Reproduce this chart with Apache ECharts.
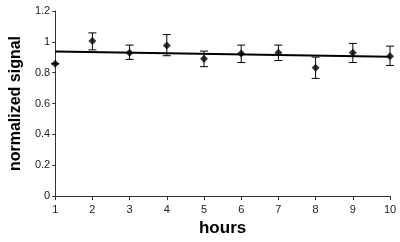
<!DOCTYPE html>
<html>
<head>
<meta charset="utf-8">
<script src="https://cdn.jsdelivr.net/npm/echarts@6/dist/echarts.min.js"></script>
<style>
    html, body { margin: 0; padding: 0; background: #fff; }
    #chart { width: 400px; height: 242px; }
</style>
</head>
<body>
<div id="chart"></div>
<script>
var hours = [1, 2, 3, 4, 5, 6, 7, 8, 9, 10];
var signal = [0.858, 1.006, 0.929, 0.976, 0.89, 0.925, 0.93, 0.832, 0.93, 0.907];
var errLow = [0.858, 0.948, 0.886, 0.91, 0.839, 0.866, 0.879, 0.763, 0.866, 0.847];
var errHigh = [0.858, 1.058, 0.979, 1.047, 0.94, 0.979, 0.979, 0.901, 0.99, 0.972];
var trendX = [1, 10];
var trendY = [0.937, 0.903];

var points = [];
var bars = [];
for (var i = 0; i < hours.length; i++) {
    points.push([hours[i], signal[i]]);
    bars.push([hours[i], errLow[i], errHigh[i]]);
}
var trend = [];
for (var i = 0; i < trendX.length; i++) trend.push([trendX[i], trendY[i]]);

var chart = echarts.init(document.getElementById("chart"));
chart.setOption({
    animation: false,
    grid: { left: 49, right: 10, top: 11, bottom: 45 },
    xAxis: {
        type: "value", min: 1, max: 10, interval: 1,
        name: "hours", nameLocation: "middle", nameGap: 21,
        nameTextStyle: { fontFamily: "Liberation Sans", fontWeight: "bold", fontSize: 17, color: "#000" },
        axisLine: { lineStyle: { color: "#333", width: 1 } },
        axisTick: { length: 4, lineStyle: { color: "#333" } },
        axisLabel: { fontFamily: "Liberation Sans", fontSize: 11, color: "#222", margin: 8 },
        splitLine: { show: false }
    },
    yAxis: {
        type: "value", min: 0, max: 1.2, interval: 0.2,
        name: "normalized signal", nameLocation: "middle", nameGap: 31,
        nameTextStyle: { fontFamily: "Liberation Sans", fontWeight: "bold", fontSize: 16, color: "#000" },
        axisLine: { show: true, lineStyle: { color: "#333", width: 1 } },
        axisTick: { show: true, length: 3, lineStyle: { color: "#333" } },
        axisLabel: { fontFamily: "Liberation Sans", fontSize: 11, color: "#222", margin: 5 },
        splitLine: { show: false }
    },
    series: [
        {
            type: "line", data: trend, symbol: "none",
            lineStyle: { color: "#000", width: 2 }, z: 2
        },
        {
            type: "custom", data: bars, z: 3,
            renderItem: function (params, api) {
                var x = api.value(0);
                var lo = api.coord([x, api.value(1)]);
                var hi = api.coord([x, api.value(2)]);
                var w = 4;
                var st = { stroke: "#000", lineWidth: 1 };
                return {
                    type: "group",
                    children: [
                        { type: "line", shape: { x1: lo[0], y1: lo[1], x2: hi[0], y2: hi[1] }, style: st },
                        { type: "line", shape: { x1: lo[0] - w, y1: lo[1], x2: lo[0] + w, y2: lo[1] }, style: st },
                        { type: "line", shape: { x1: hi[0] - w, y1: hi[1], x2: hi[0] + w, y2: hi[1] }, style: st }
                    ]
                };
            }
        },
        {
            type: "scatter", data: points, symbol: "diamond", symbolSize: 8,
            itemStyle: { color: "#000" }, z: 4
        }
    ]
});
</script>
</body>
</html>
